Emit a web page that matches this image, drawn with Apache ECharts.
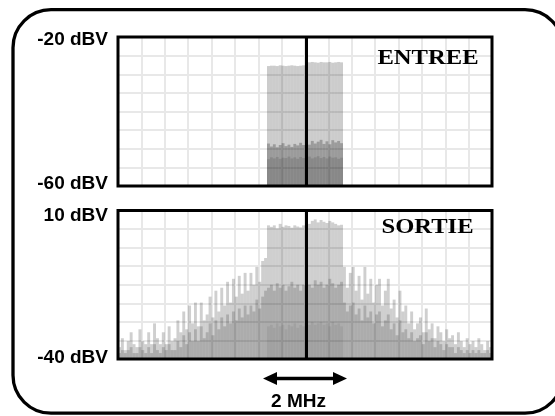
<!DOCTYPE html>
<html>
<head>
<meta charset="utf-8">
<script src="https://cdn.jsdelivr.net/npm/echarts@6/dist/echarts.min.js"></script>
<style>
html, body { margin: 0; padding: 0; background: #fff; }
#chart { width: 555px; height: 416px; }
</style>
</head>
<body>
<div id="chart"></div>
<script>
// frequency bins over the 16 screen divisions (8 bins per division)
var bins = [];
for (var i = 0; i < 128; i++) bins.push(i);
var bandStart = 51;   // first bin of the 2 MHz channel
var centerBin = 64;

// ENTREE, dBV, channel bins only (peak hold / trace / floor of trace)
var inPeak = [-27.8,-27.7,-27.7,-27.8,-27.6,-27.7,-27.8,-27.7,-27.6,-27.7,-27.8,-27.7,-27.6,
              -26.9,-26.8,-26.7,-26.8,-26.9,-26.7,-26.8,-26.8,-26.7,-26.9,-26.8,-26.7,-26.8];
var inMid = [-48.6,-49.4,-48.8,-49.6,-49.0,-48.5,-49.3,-48.9,-49.5,-48.7,-49.1,-48.4,-49.0,
             -48.3,-48.9,-47.9,-48.6,-48.1,-47.6,-48.7,-48.0,-48.8,-47.7,-48.3,-47.9,-48.5];
var inLow = [-52.8,-52.3,-52.6,-52.2,-52.7,-52.4,-52.5,-52.1,-52.6,-52.3,-52.7,-52.2,-52.5,
             -52.4,-52.1,-52.6,-52.3,-52.0,-52.5,-52.2,-52.6,-52.1,-52.4,-52.3,-52.7,-52.4];

// SORTIE, dBV, all bins
var outPeak = [
  -36,-33,-37,-34,-31,-35,-36,-30,-34,-35,
  -31,-35,-28,-33,-35,-31,-35,-29,-34,-33,
  -27,-31,-24,-30,-22,-28,-21,-29,-21,-27,
  -25,-19,-26,-17,-24,-16,-22,-14,-21,-13,
  -19,-12,-18,-11,-17,-11,-15,-9,-14,-7,
  -6,
  5,4.5,5,4,5.5,4.5,5,4.8,4.2,5,4.6,4.3,5,
  6,5.5,6.5,7,6,6.8,6.2,5.8,6.5,6,5.5,5,5.2,
  -9,-16,-11,-9,-17,-12,-20,-9,-18,-13,
  -21,-15,-13,-22,-17,-13,-23,-20,-26,-17,
  -24,-22,-28,-24,-30,-28,-26,-31,-23,-30,
  -28,-33,-29,-31,-34,-30,-33,-32,-35,-31,
  -34,-36,-33,-35,-34,-36,-33,-35,-37,-34,-36
];
var outMid = [
  -38,-37,-38,-37,-36,-38,-38,-36,-37,-38,
  -36,-38,-35,-37,-38,-36,-37,-35,-37,-37,
  -34,-36,-32,-35,-31,-34,-30,-34,-29,-33,
  -31,-28,-32,-27,-30,-26,-29,-25,-28,-24,
  -27,-23,-26,-22,-25,-22,-24,-20,-23,-19,
  -17,
  -16,-15,-17,-14.5,-16,-15,-17,-15.5,-14,-16,-15,-17,-15,
  -14,-15,-16,-13.5,-15,-14,-16,-15,-13,-14.5,-16,-15,-14,
  -21,-24,-22,-21,-25,-23,-27,-22,-26,-24,
  -28,-25,-24,-29,-27,-25,-30,-28,-32,-27,
  -31,-30,-33,-31,-34,-33,-32,-35,-31,-34,
  -33,-36,-34,-35,-37,-35,-36,-36,-38,-36,
  -37,-38,-37,-38,-37,-38,-37,-38,-38,-37,-38
];
var outLow = [-29,-28.5,-29.5,-28,-29,-28.5,-30,-28.5,-29,-28,-29.5,-28.5,-29,
              -28,-28.5,-27.5,-28.5,-28,-27.5,-28.5,-28,-29,-27.5,-28.5,-28,-29];

// screen ranges
var inRange = [-60, -20];
var outRange = [-40, 10];

// plot boxes
var box1 = { left: 118, top: 37, width: 374, height: 149 };
var box2 = { left: 118, top: 210.5, width: 374, height: 148.5 };

var labelFont = { fontFamily: 'Liberation Sans', fontWeight: 'bold', fontSize: 19, color: '#000' };
var gridLine = { color: '#e8e8e8', width: 2 };

// bars grow from the bottom of the screen, so values are measured from the floor
function channelRow(band, floor) {
  return bins.map(function (b) {
    var k = b - bandStart;
    return (k >= 0 && k < band.length) ? band[k] - floor : '-';
  });
}
function fullRow(row, floor) {
  return row.map(function (v) { return v - floor; });
}

function bar(idx, data, color, mark) {
  var s = {
    type: 'bar', xAxisIndex: idx, yAxisIndex: idx, data: data,
    barGap: '-100%', barCategoryGap: '0%', silent: true,
    itemStyle: { color: color }
  };
  if (mark) {
    s.markLine = {
      silent: true, symbol: 'none', label: { show: false },
      lineStyle: { color: '#000', width: 3, type: 'solid' },
      data: [{ xAxis: centerBin }]
    };
  }
  return s;
}

function xAxisFor(idx) {
  return {
    type: 'category', gridIndex: idx, data: bins,
    axisLine: { show: false }, axisTick: { show: false }, axisLabel: { show: false },
    splitLine: { show: true, interval: 7, lineStyle: gridLine }
  };
}

function yAxisFor(idx, range, padTop, padBot) {
  var span = range[1] - range[0];
  return {
    type: 'value', gridIndex: idx, min: 0, max: span, interval: span / 8,
    axisLine: { show: false }, axisTick: { show: false },
    splitLine: { show: true, lineStyle: gridLine },
    axisLabel: {
      margin: 10, showMinLabel: true, showMaxLabel: true,
      formatter: function (v) {
        if (v === span) return '{t|' + range[1] + ' dBV}';
        if (v === 0) return '{b|' + range[0] + ' dBV}';
        return '';
      },
      rich: {
        t: Object.assign({ padding: [padTop, 0, 0, 0] }, labelFont),
        b: Object.assign({ padding: [0, 0, padBot, 0] }, labelFont)
      }
    }
  };
}

function frame(b) {
  return {
    type: 'rect', z: 100, silent: true,
    shape: { x: b.left, y: b.top, width: b.width, height: b.height },
    style: { fill: null, stroke: '#000', lineWidth: 3 }
  };
}

function title(text, x, y) {
  return {
    type: 'text', z: 100, x: x, y: y, scaleX: 1.23, silent: true,
    style: {
      text: text, fontFamily: 'Liberation Serif', fontWeight: 'bold', fontSize: 20,
      fill: '#000', align: 'center', verticalAlign: 'middle'
    }
  };
}

var option = {
  animation: false,
  backgroundColor: '#fff',
  grid: [box1, box2],
  xAxis: [xAxisFor(0), xAxisFor(1)],
  yAxis: [yAxisFor(0, inRange, 6, 4), yAxisFor(1, outRange, 11, 3)],
  series: [
    bar(0, channelRow(inPeak, inRange[0]), 'rgba(0,0,0,0.2)', true),
    bar(0, channelRow(inMid, inRange[0]), 'rgba(0,0,0,0.24)'),
    bar(0, channelRow(inLow, inRange[0]), 'rgba(0,0,0,0.12)'),
    bar(1, fullRow(outPeak, outRange[0]), 'rgba(0,0,0,0.19)', true),
    bar(1, fullRow(outMid, outRange[0]), 'rgba(0,0,0,0.17)'),
    bar(1, channelRow(outLow, outRange[0]), 'rgba(0,0,0,0.06)')
  ],
  graphic: [
    {
      type: 'rect', z: 100, silent: true,
      shape: { x: 13, y: 9.7, width: 550, height: 403.5, r: 38 },
      style: { fill: null, stroke: '#000', lineWidth: 3.3 }
    },
    frame(box1),
    frame(box2),
    title('ENTREE', 428, 58.5),
    title('SORTIE', 427.5, 228),
    // 2 MHz span arrow
    {
      type: 'polyline', z: 100, silent: true,
      shape: { points: [[275, 378.5], [335, 378.5]] },
      style: { stroke: '#000', lineWidth: 3.3 }
    },
    {
      type: 'polygon', z: 100, silent: true,
      shape: { points: [[263, 378.5], [277, 372], [277, 385]] },
      style: { fill: '#000' }
    },
    {
      type: 'polygon', z: 100, silent: true,
      shape: { points: [[347, 378.5], [333, 372], [333, 385]] },
      style: { fill: '#000' }
    },
    {
      type: 'text', z: 100, x: 298.5, y: 402, silent: true,
      style: Object.assign({ text: '2 MHz', align: 'center', verticalAlign: 'middle', fill: '#000' }, labelFont)
    }
  ]
};

var myChart = echarts.init(document.getElementById('chart'));
myChart.setOption(option);
</script>
</body>
</html>
